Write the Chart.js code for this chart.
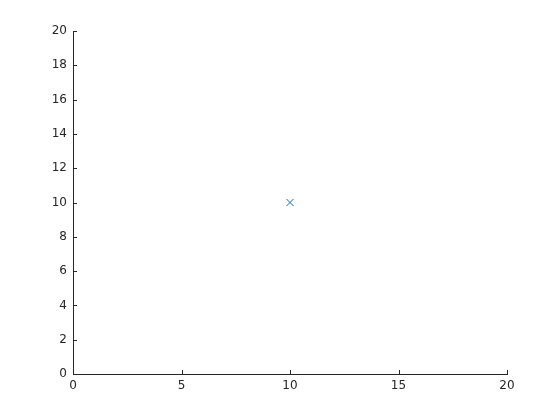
<!DOCTYPE html>
<html>
<head>
<meta charset="utf-8">
<script src="https://cdn.jsdelivr.net/npm/chart.js@4"></script>
<style>
  body { margin: 0; background: #fff; }
  #wrap { width: 560px; height: 420px; }
</style>
</head>
<body>
<div id="wrap"><canvas id="chart"></canvas></div>
<script>
const xValues = [10];
const yValues = [10];
const xTicks = [0, 5, 10, 15, 20];
const yTicks = [0, 2, 4, 6, 8, 10, 12, 14, 16, 18, 20];

const axisColor = '#262626';

// MATLAB style ticks pointing into the plot area
const inwardTicks = {
    id: 'inwardTicks',
    afterDraw(chart) {
        const { ctx, chartArea, scales } = chart;
        ctx.save();
        ctx.strokeStyle = axisColor;
        ctx.lineWidth = 1;
        ctx.beginPath();
        xTicks.forEach(v => {
            const px = Math.round(scales.x.getPixelForValue(v)) + 0.5;
            ctx.moveTo(px, chartArea.bottom);
            ctx.lineTo(px, chartArea.bottom - 4);
        });
        yTicks.forEach(v => {
            const py = Math.round(scales.y.getPixelForValue(v)) + 0.5;
            ctx.moveTo(chartArea.left, py);
            ctx.lineTo(chartArea.left + 4, py);
        });
        ctx.stroke();
        ctx.restore();
    }
};

new Chart(document.getElementById('chart'), {
    type: 'scatter',
    data: {
        datasets: [{
            data: xValues.map((x, i) => ({ x: x, y: yValues[i] })),
            pointStyle: 'crossRot',
            pointRadius: 5,
            pointBorderWidth: 1,
            borderColor: '#0072BD',
            backgroundColor: '#0072BD'
        }]
    },
    options: {
        responsive: true,
        maintainAspectRatio: false,
        animation: false,
        layout: { padding: { left: 0, top: 31, right: 53, bottom: 0 } },
        plugins: { legend: { display: false }, tooltip: { enabled: false } },
        scales: {
            x: {
                type: 'linear',
                min: 0, max: 20,
                afterBuildTicks: s => { s.ticks = xTicks.map(v => ({ value: v })); },
                afterFit: s => { s.height = 46; },
                grid: { display: true, drawOnChartArea: false, drawTicks: false, color: axisColor },
                border: { color: axisColor },
                ticks: { color: axisColor, padding: 5, font: { family: 'DejaVu Sans', size: 12 }, maxRotation: 0 }
            },
            y: {
                type: 'linear',
                min: 0, max: 20,
                afterBuildTicks: s => { s.ticks = yTicks.map(v => ({ value: v })); },
                afterFit: s => { s.width = 73; },
                grid: { display: true, drawOnChartArea: false, drawTicks: false, color: axisColor },
                border: { color: axisColor },
                ticks: { color: axisColor, padding: 6, font: { family: 'DejaVu Sans', size: 12 } }
            }
        }
    },
    plugins: [inwardTicks]
});
</script>
</body>
</html>
